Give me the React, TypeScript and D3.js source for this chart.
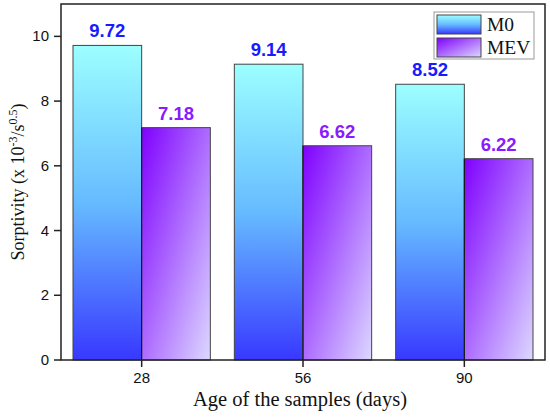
import { useEffect, useRef } from "react";
import * as d3 from "d3";

const ages = ["28", "56", "90"];
const seriesNames = ["M0", "MEV"];
const m0Values = [9.72, 9.14, 8.52];
const mevValues = [7.18, 6.62, 6.22];
const yTicks = [0, 2, 4, 6, 8, 10];

export default function App() {
    const svgRef = useRef<SVGSVGElement>(null);

    useEffect(() => {
        document.body.style.margin = "0";
        if (!svgRef.current) return;
        const svg = d3.select(svgRef.current);
        svg.selectAll("*").remove();

        const width = 550;
        const height = 420;
        const margin = { top: 4, right: 5, bottom: 60, left: 61 };
        const plotW = width - margin.left - margin.right;
        const plotH = height - margin.top - margin.bottom;

        // Gradients
        const defs = svg.append("defs");
        const gM0 = defs.append("linearGradient")
            .attr("id", "gradM0")
            .attr("x1", 0).attr("y1", 0).attr("x2", 0).attr("y2", 1);
        gM0.append("stop").attr("offset", "0%").attr("stop-color", "#9cffff");
        gM0.append("stop").attr("offset", "50%").attr("stop-color", "#66bbff");
        gM0.append("stop").attr("offset", "100%").attr("stop-color", "#3838ff");

        const gMev = defs.append("linearGradient")
            .attr("id", "gradMEV")
            .attr("x1", 0).attr("y1", 0).attr("x2", 1).attr("y2", 1);
        gMev.append("stop").attr("offset", "0%").attr("stop-color", "#7f00ff");
        gMev.append("stop").attr("offset", "100%").attr("stop-color", "#dcd8ff");

        const fills = ["url(#gradM0)", "url(#gradMEV)"];
        const labelColors = ["#1a1aff", "#8a1aff"];

        const x0 = d3.scaleBand<string>()
            .domain(ages)
            .range([0, plotW])
            .paddingInner(0)
            .paddingOuter(0);

        const x1 = d3.scaleBand<string>()
            .domain(seriesNames)
            .range([12, x0.bandwidth() - 12])
            .padding(0);

        const y = d3.scaleLinear()
            .domain([0, 11])
            .range([plotH, 0]);

        const g = svg.append("g")
            .attr("transform", `translate(${margin.left},${margin.top})`);

        const data = ages.map((age, i) => ({
            age,
            values: [
                { name: seriesNames[0], value: m0Values[i], s: 0 },
                { name: seriesNames[1], value: mevValues[i], s: 1 },
            ],
        }));

        const groups = g.selectAll(".grp")
            .data(data)
            .enter()
            .append("g")
            .attr("transform", d => `translate(${x0(d.age)},0)`);

        groups.selectAll("rect")
            .data(d => d.values)
            .enter()
            .append("rect")
            .attr("x", d => x1(d.name)!)
            .attr("y", d => y(d.value))
            .attr("width", x1.bandwidth())
            .attr("height", d => plotH - y(d.value))
            .style("fill", d => fills[d.s])
            .style("stroke", "#444")
            .style("stroke-width", 1);

        groups.selectAll(".val")
            .data(d => d.values)
            .enter()
            .append("text")
            .attr("x", d => x1(d.name)! + x1.bandwidth() / 2)
            .attr("y", d => y(d.value) - 8)
            .attr("text-anchor", "middle")
            .style("fill", d => labelColors[d.s])
            .style("font-family", "Arial, 'Liberation Sans', sans-serif")
            .style("font-weight", "700")
            .style("font-size", "18.5px")
            .text(d => d.value.toFixed(2));

        // Frame
        g.append("rect")
            .attr("x", 0).attr("y", 0)
            .attr("width", plotW).attr("height", plotH)
            .style("fill", "none")
            .style("stroke", "#222")
            .style("stroke-width", 1.5);

        // Y axis
        yTicks.forEach(t => {
            g.append("line")
                .attr("x1", -7).attr("x2", 0)
                .attr("y1", y(t)).attr("y2", y(t))
                .style("stroke", "#222").style("stroke-width", 1.5);
            g.append("text")
                .attr("x", -12)
                .attr("y", y(t) + 5)
                .attr("text-anchor", "end")
                .style("font-family", "Arial, 'Liberation Sans', sans-serif")
                .style("font-size", "15px")
                .style("fill", "#111")
                .text(t);
        });

        // X axis
        ages.forEach(a => {
            const cx = x0(a)! + x0.bandwidth() / 2;
            g.append("line")
                .attr("x1", cx).attr("x2", cx)
                .attr("y1", plotH).attr("y2", plotH + 7)
                .style("stroke", "#222").style("stroke-width", 1.5);
            g.append("line")
                .attr("x1", cx).attr("x2", cx)
                .attr("y1", y(Math.min(...data.find(d => d.age === a)!.values.map(v => v.value)))).attr("y2", plotH)
                .style("stroke", "#111").style("stroke-width", 1);
            g.append("text")
                .attr("x", cx)
                .attr("y", plotH + 23)
                .attr("text-anchor", "middle")
                .style("font-family", "Arial, 'Liberation Sans', sans-serif")
                .style("font-size", "15px")
                .style("fill", "#111")
                .text(a);
        });

        // Axis titles
        svg.append("text")
            .attr("x", 300)
            .attr("y", 406)
            .attr("text-anchor", "middle")
            .style("font-family", "'Liberation Serif', 'Times New Roman', serif")
            .style("font-size", "20.5px")
            .style("fill", "#111")
            .text("Age of the samples (days)");

        const yt = svg.append("text")
            .attr("transform", `translate(24,${margin.top + plotH / 2}) rotate(-90)`)
            .attr("text-anchor", "middle")
            .style("font-family", "'Liberation Serif', 'Times New Roman', serif")
            .style("font-size", "18px")
            .style("fill", "#111");
        yt.append("tspan").text("Sorptivity (x 10");
        yt.append("tspan").attr("dy", -7).style("font-size", "12px").text("-3");
        yt.append("tspan").attr("dy", 7).text("/s");
        yt.append("tspan").attr("dy", -7).style("font-size", "12px").text("0.5");
        yt.append("tspan").attr("dy", 7).text(")");

        // Legend
        const lg = svg.append("g").attr("transform", "translate(434,12)");
        lg.append("rect")
            .attr("width", 100).attr("height", 47)
            .style("fill", "#fff")
            .style("stroke", "#999")
            .style("stroke-width", 1);
        seriesNames.forEach((n, i) => {
            lg.append("rect")
                .attr("x", 3).attr("y", 3 + i * 23)
                .attr("width", 44).attr("height", 19)
                .style("fill", fills[i])
                .style("stroke", "#444").style("stroke-width", 1);
            lg.append("text")
                .attr("x", 53)
                .attr("y", 19 + i * 23)
                .style("font-family", "'Liberation Serif', 'Times New Roman', serif")
                .style("font-size", "19.5px")
                .style("fill", "#111")
                .text(n);
        });
    }, []);

    return <svg ref={svgRef} width={550} height={420} style={{ display: "block", background: "#fff" }} />;
}
